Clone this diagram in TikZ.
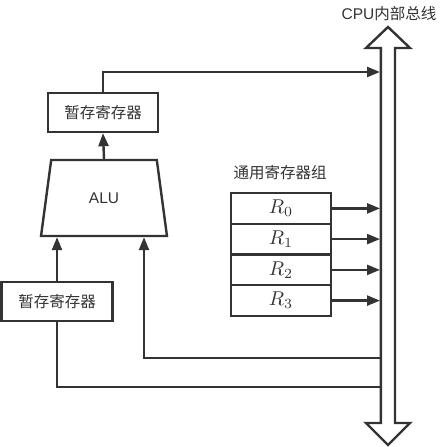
\documentclass[tikz,border=0pt]{standalone}
\usepackage{fontspec}
\setmainfont{Liberation Sans}
\newfontfamily\cjk{Noto Sans CJK SC}
\usetikzlibrary{arrows.meta,shapes.geometric}
\definecolor{ink}{HTML}{333333}
\newcommand{\regname}[1]{\scalebox{2.0}{$#1$}}
\begin{document}
\begin{tikzpicture}[x=1pt,y=-1pt,
  conn/.style={draw=ink, line width=2.4pt},
  arr/.style={conn, -{Triangle[length=13pt,width=10pt]}},
  box/.style={draw=ink, line width=2.4pt, fill=white, inner sep=0pt, minimum width=110pt, minimum height=39pt, text=ink, font=\cjk\fontsize{15.5}{18}\selectfont},
  regbox/.style={draw=ink, line width=2.4pt, inner sep=0pt, minimum width=100pt, minimum height=30.75pt, text=ink},
  lbl/.style={text=ink, inner sep=0pt, font=\fontsize{15.5}{18}\selectfont}]
\useasboundingbox (0,0) rectangle (443,447);
% bus
\draw[conn, fill=white, line join=miter] (380.8,423) -- (366,423) -- (388,445) -- (410,423) -- (395,423) -- (395,48) -- (410,48) -- (388,27) -- (366,48) -- (380.8,48) -- cycle;
\node[lbl] (buslabel) at (389,14) {CPU{\cjk 内部总线}};
\coordinate (bus0) at (380,72);
\coordinate (busR0) at (380,208.4);
\coordinate (busR1) at (380,239.1);
\coordinate (busR2) at (380,269.9);
\coordinate (busR3) at (380,300.6);
\coordinate (busA) at (380.8,358);
\coordinate (busB) at (380.8,387);
% blocks
\node[box] (treg) at (103,112.5) {暂存寄存器};
\node[trapezium, draw=ink, line width=2.4pt, trapezium left angle=75, trapezium right angle=75, trapezium stretches=true, minimum width=126pt, minimum height=76pt, inner sep=0pt, text=ink, font=\fontsize{15.5}{18}\selectfont] (alu) at (104,198) {ALU};
\node[box, minimum width=111pt] (lreg) at (57,301.5) {暂存寄存器};
\node[lbl, font=\cjk\fontsize{15.5}{18}\selectfont] (grp) at (280,173) {通用寄存器组};
\node[regbox] (r0) at (281,208.4) {\regname{R_0}};
\node[regbox] (r1) at (281,239.1) {\regname{R_1}};
\node[regbox] (r2) at (281,269.9) {\regname{R_2}};
\node[regbox] (r3) at (281,300.6) {\regname{R_3}};
% connectors
\draw[arr] (treg.north) |- (bus0);
\draw[arr] (alu.north) -- (treg.south);
\draw[arr] (lreg.north) -- (lreg.north |- alu.south);
\draw[arr] (busA) -| ([xshift=40pt]alu.south);
\draw[conn] (lreg.south) |- (busB);
\draw[arr] (r0.east) -- (busR0);
\draw[arr] (r1.east) -- (busR1);
\draw[arr] (r2.east) -- (busR2);
\draw[arr] (r3.east) -- (busR3);
\end{tikzpicture}
\end{document}
